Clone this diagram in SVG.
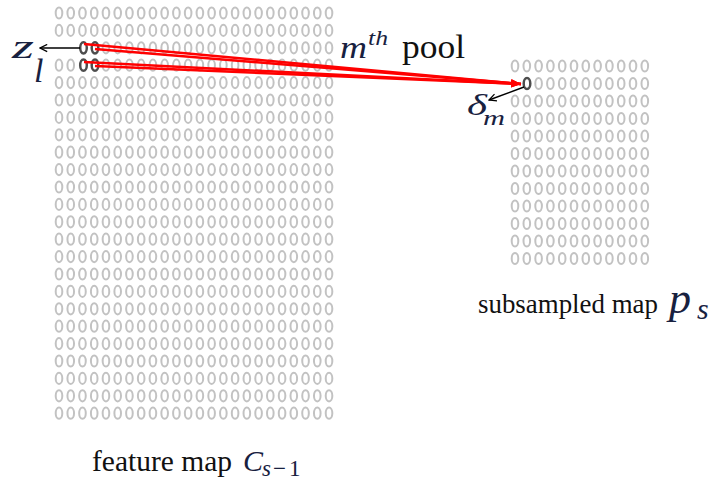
<svg xmlns="http://www.w3.org/2000/svg" xmlns:xlink="http://www.w3.org/1999/xlink" width="727" height="480" viewBox="0 0 727 480">
<style>
.o{fill:none;stroke:#c2c2c2;stroke-width:2}
.d{fill:none;stroke:#4d4d4d;stroke-width:2.5}
.red{stroke:#ff0000;stroke-width:2.5;fill:none}
.blk{stroke:#000;stroke-width:1.4;fill:none}
.t{font-family:"Liberation Serif","Times New Roman",serif;fill:#111}
.m{font-family:"Liberation Serif","Times New Roman",serif;font-style:italic;fill:#18213f}
</style>
<defs>
<ellipse id="o" rx="3.3" ry="5.6" class="o"/>
<g id="L">
<use href="#o" x="59"/><use href="#o" x="70.74"/><use href="#o" x="82.48"/><use href="#o" x="94.22"/><use href="#o" x="105.96"/><use href="#o" x="117.7"/><use href="#o" x="129.44"/><use href="#o" x="141.18"/><use href="#o" x="152.92"/><use href="#o" x="164.66"/><use href="#o" x="176.4"/><use href="#o" x="188.14"/><use href="#o" x="199.88"/><use href="#o" x="211.62"/><use href="#o" x="223.36"/><use href="#o" x="235.1"/><use href="#o" x="246.84"/><use href="#o" x="258.58"/><use href="#o" x="270.32"/><use href="#o" x="282.06"/><use href="#o" x="293.8"/><use href="#o" x="305.54"/><use href="#o" x="317.28"/><use href="#o" x="329.02"/>
</g>
<g id="L2">
<use href="#o" x="105.96"/><use href="#o" x="117.7"/><use href="#o" x="129.44"/><use href="#o" x="141.18"/><use href="#o" x="152.92"/><use href="#o" x="164.66"/><use href="#o" x="176.4"/><use href="#o" x="188.14"/><use href="#o" x="199.88"/><use href="#o" x="211.62"/><use href="#o" x="223.36"/><use href="#o" x="235.1"/><use href="#o" x="246.84"/><use href="#o" x="258.58"/><use href="#o" x="270.32"/><use href="#o" x="282.06"/><use href="#o" x="293.8"/><use href="#o" x="305.54"/><use href="#o" x="317.28"/><use href="#o" x="329.02"/>
</g>
<g id="L3">
<use href="#o" x="59"/><use href="#o" x="70.74"/><use href="#o" x="105.96"/><use href="#o" x="117.7"/><use href="#o" x="129.44"/><use href="#o" x="141.18"/><use href="#o" x="152.92"/><use href="#o" x="164.66"/><use href="#o" x="176.4"/><use href="#o" x="188.14"/><use href="#o" x="199.88"/><use href="#o" x="211.62"/><use href="#o" x="223.36"/><use href="#o" x="235.1"/><use href="#o" x="246.84"/><use href="#o" x="258.58"/><use href="#o" x="270.32"/><use href="#o" x="282.06"/><use href="#o" x="293.8"/><use href="#o" x="305.54"/><use href="#o" x="317.28"/><use href="#o" x="329.02"/>
</g>
<g id="R">
<use href="#o" x="515"/><use href="#o" x="526.8"/><use href="#o" x="538.6"/><use href="#o" x="550.4"/><use href="#o" x="562.2"/><use href="#o" x="574"/><use href="#o" x="585.8"/><use href="#o" x="597.6"/><use href="#o" x="609.4"/><use href="#o" x="621.2"/><use href="#o" x="633"/><use href="#o" x="644.8"/>
</g>
<g id="R1">
<use href="#o" x="538.6"/><use href="#o" x="550.4"/><use href="#o" x="562.2"/><use href="#o" x="574"/><use href="#o" x="585.8"/><use href="#o" x="597.6"/><use href="#o" x="609.4"/><use href="#o" x="621.2"/><use href="#o" x="633"/><use href="#o" x="644.8"/>
</g>
<marker id="ar" viewBox="0 0 10 8" refX="10" refY="4" markerWidth="10" markerHeight="8" markerUnits="userSpaceOnUse" orient="auto">
<path d="M0,0 L10,4 L0,8 Z" fill="#ff0000"/>
</marker>
<marker id="ab" viewBox="0 0 10 10" refX="9" refY="5" markerWidth="9" markerHeight="9" markerUnits="userSpaceOnUse" orient="auto">
<path d="M1,1 L9,5 L1,9" fill="none" stroke="#000" stroke-width="1.4"/>
</marker>
</defs>

<g id="feature-map">
<use href="#L" y="13"/><use href="#L" y="30.4"/><use href="#L2" y="47.8"/><use href="#L3" y="65.2"/><use href="#L" y="82.6"/><use href="#L" y="100"/><use href="#L" y="117.4"/><use href="#L" y="134.8"/><use href="#L" y="152.2"/><use href="#L" y="169.6"/><use href="#L" y="187"/><use href="#L" y="204.4"/><use href="#L" y="221.8"/><use href="#L" y="239.2"/><use href="#L" y="256.6"/><use href="#L" y="274"/><use href="#L" y="291.4"/><use href="#L" y="308.8"/><use href="#L" y="326.2"/><use href="#L" y="343.6"/><use href="#L" y="361"/><use href="#L" y="378.4"/><use href="#L" y="395.8"/><use href="#L" y="413.2"/>
<g id="pool-units">
<ellipse cx="83.5" cy="47.8" rx="3.3" ry="5.6" class="d"/>
<ellipse cx="95" cy="47.8" rx="3.3" ry="5.6" class="d"/>
<ellipse cx="83.5" cy="65.2" rx="3.3" ry="5.6" class="d"/>
<ellipse cx="95" cy="65.2" rx="3.3" ry="5.6" class="d"/>
</g>
<text class="t" x="92" y="471" font-size="29" textLength="140" lengthAdjust="spacingAndGlyphs">feature map</text>
<text class="m" x="243" y="471" font-size="30">C<tspan x="262" font-size="23" dy="5">s</tspan><tspan x="273" font-size="23" font-style="normal">−</tspan><tspan x="289" font-size="23" font-style="normal">1</tspan></text>
</g>

<g id="subsampled-map">
<use href="#R" y="66"/><use href="#R1" y="83.5"/><use href="#R" y="101"/><use href="#R" y="118.5"/><use href="#R" y="136"/><use href="#R" y="153.5"/><use href="#R" y="171"/><use href="#R" y="188.5"/><use href="#R" y="206"/><use href="#R" y="223.5"/><use href="#R" y="241"/><use href="#R" y="258.5"/>
<ellipse id="target" cx="527" cy="83.5" rx="3.3" ry="5.6" class="d"/>
<text class="t" x="478" y="313" font-size="28" textLength="180" lengthAdjust="spacingAndGlyphs">subsampled map</text>
<text class="m" x="669" y="313" font-size="44">p<tspan x="697" font-size="30" dy="6">s</tspan></text>
</g>

<g id="connectors">
<line class="red" x1="84" y1="44" x2="521" y2="84" marker-end="url(#ar)"/>
<line class="red" x1="95" y1="49" x2="521" y2="84" marker-end="url(#ar)"/>
<line class="red" x1="84" y1="62" x2="521" y2="84" marker-end="url(#ar)"/>
<line class="red" x1="95" y1="66" x2="521" y2="84" marker-end="url(#ar)"/>
<line class="blk" x1="80" y1="48" x2="40" y2="48" marker-end="url(#ab)"/>
<line class="blk" x1="524" y1="87" x2="489" y2="100" marker-end="url(#ab)"/>
</g>

<g id="labels">
<text class="m" x="12" y="58" font-size="34" textLength="22" lengthAdjust="spacingAndGlyphs">z</text>
<text class="m" x="34" y="82" font-size="34">l</text>
<text class="m" x="340" y="58" font-size="32" textLength="27" lengthAdjust="spacingAndGlyphs">m</text>
<text class="m" x="368" y="45" font-size="22" textLength="20" lengthAdjust="spacingAndGlyphs">th</text>
<text class="t" x="402" y="58" font-size="33" textLength="63" lengthAdjust="spacingAndGlyphs">pool</text>
<text class="m" x="467" y="115" font-size="30" textLength="20" lengthAdjust="spacingAndGlyphs">δ</text>
<text class="m" x="483" y="125" font-size="22" textLength="22" lengthAdjust="spacingAndGlyphs">m</text>
</g>
</svg>
